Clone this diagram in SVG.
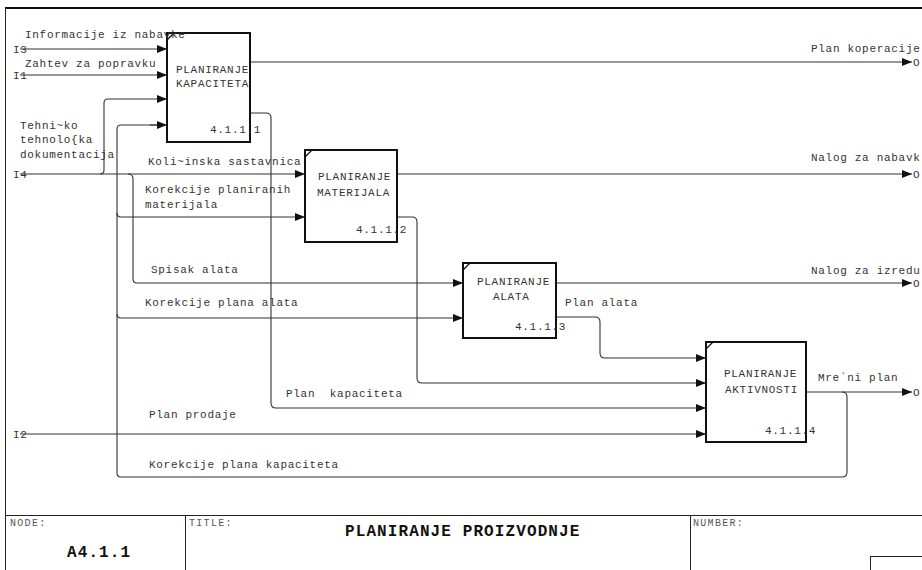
<svg xmlns="http://www.w3.org/2000/svg" width="922" height="570" viewBox="0 0 922 570">
  <style>
    text { font-family: "Liberation Mono", "Courier New", monospace; font-size: 11px; letter-spacing: 0.7px; fill: #333; white-space: pre; }
    .bold { font-weight: bold; font-size: 16px; letter-spacing: 1.1px; fill: #111; }
    .small { font-size: 10px; letter-spacing: 1.3px; fill: #555; }
    .box { fill: #fff; stroke: #111; stroke-width: 2; }
    .tick { stroke: #111; stroke-width: 1.2; }
    .frame { fill: none; stroke: #222; stroke-width: 1; }
    #connectors path { fill: none; stroke: #333; stroke-width: 1.1; }
    #connectors path.arr { marker-end: url(#ah); }
  </style>
  <defs>
    <marker id="ah" markerUnits="userSpaceOnUse" markerWidth="11" markerHeight="9" refX="10" refY="4" orient="auto">
      <path d="M0,0 L10,4 L0,8 z" fill="#111"/>
    </marker>
  </defs>
  <rect width="922" height="570" fill="#fff"/>

  <!-- sheet frame -->
  <g id="frame">
    <line x1="5" y1="8" x2="922" y2="8" stroke="#111" stroke-width="2"/>
    <line x1="5.5" y1="8" x2="5.5" y2="570" class="frame"/>
    <line x1="5" y1="515.5" x2="922" y2="515.5" class="frame"/>
    <line x1="185.5" y1="515" x2="185.5" y2="570" class="frame"/>
    <line x1="690.5" y1="515" x2="690.5" y2="570" class="frame"/>
    <rect x="870.5" y="556.5" width="60" height="20" class="frame"/>
  </g>

  <!-- connectors -->
  <g id="connectors">
    <!-- inputs from the left border -->
    <path class="arr" d="M20,49 H167"/>
    <path class="arr" d="M20,75 H167"/>
    <path class="arr" d="M20,174 H305"/>
    <path class="arr" d="M100,174 Q104,174 104,170 V103 Q104,99 108,99 H167"/>
    <path class="arr" d="M128,174 Q133,174 133,179 V279 Q133,283 137,283 H463"/>
    <path class="arr" d="M20,434 H706"/>
    <!-- feedback: Korekcije plana kapaciteta -->
    <path d="M842,392 Q847,392 847,397 V472 Q847,477 842,477 H121 Q117,477 117,473 V129 Q117,125 121,125 H157"/>
    <path class="arr" d="M150,125 H167"/>
    <path class="arr" d="M117,213 Q117,217 121,217 H305"/>
    <path class="arr" d="M117,314 Q117,318 121,318 H463"/>
    <!-- outputs to the right border -->
    <path class="arr" d="M250,62 H912"/>
    <path class="arr" d="M397,174 H912"/>
    <path class="arr" d="M556,283 H912"/>
    <path class="arr" d="M806,392 H912"/>
    <!-- internal flows into PLANIRANJE AKTIVNOSTI -->
    <path class="arr" d="M250,113 H266 Q271,113 271,118 V403 Q271,408 276,408 H706"/>
    <path class="arr" d="M397,217 H412 Q417,217 417,222 V378 Q417,383 422,383 H706"/>
    <path class="arr" d="M556,317 H595 Q600,317 600,322 V353 Q600,358 605,358 H706"/>
  </g>

  <!-- activity boxes -->
  <g id="node-4111">
    <rect class="box" x="167" y="33" width="83" height="109"/>
    <line class="tick" x1="167" y1="40" x2="174" y2="33"/>
    <text x="176" y="73">PLANIRANJE</text>
    <text x="176" y="87">KAPACITETA</text>
    <text x="210" y="133">4.1.1.1</text>
  </g>
  <g id="node-4112">
    <rect class="box" x="305" y="150" width="92" height="92"/>
    <line class="tick" x1="305" y1="157" x2="312" y2="150"/>
    <text x="318" y="180">PLANIRANJE</text>
    <text x="317" y="196">MATERIJALA</text>
    <text x="356" y="233">4.1.1.2</text>
  </g>
  <g id="node-4113">
    <rect class="box" x="463" y="263" width="93" height="75"/>
    <line class="tick" x1="463" y1="270" x2="470" y2="263"/>
    <text x="477" y="285">PLANIRANJE</text>
    <text x="493" y="300">ALATA</text>
    <text x="515" y="330">4.1.1.3</text>
  </g>
  <g id="node-4114">
    <rect class="box" x="706" y="342" width="100" height="100"/>
    <line class="tick" x1="706" y1="349" x2="713" y2="342"/>
    <text x="724" y="377">PLANIRANJE</text>
    <text x="725" y="393">AKTIVNOSTI</text>
    <text x="765" y="434">4.1.1.4</text>
  </g>

  <!-- arrow labels -->
  <g id="labels">
    <text x="25" y="38">Informacije iz nabavke</text>
    <text x="25" y="67">Zahtev za popravku</text>
    <text x="13" y="53">I3</text>
    <text x="13" y="79">I1</text>
    <text x="13" y="178">I4</text>
    <text x="13" y="438">I2</text>
    <text x="20" y="129">Tehni~ko</text>
    <text x="20" y="143">tehnolo{ka</text>
    <text x="20" y="158">dokumentacija</text>
    <text x="148" y="165">Koli~inska sastavnica</text>
    <text x="145" y="193">Korekcije planiranih</text>
    <text x="145" y="208">materijala</text>
    <text x="151" y="273">Spisak alata</text>
    <text x="145" y="306">Korekcije plana alata</text>
    <text x="565" y="306">Plan alata</text>
    <text x="286" y="397">Plan  kapaciteta</text>
    <text x="149" y="418">Plan prodaje</text>
    <text x="149" y="468">Korekcije plana kapaciteta</text>
    <text x="811" y="52">Plan koperacije</text>
    <text x="811" y="161">Nalog za nabavk</text>
    <text x="811" y="274">Nalog za izredu</text>
    <text x="818" y="381">Mre`ni plan</text>
    <text x="913" y="66">O</text>
    <text x="913" y="178">O</text>
    <text x="913" y="287">O</text>
    <text x="913" y="396">O</text>
  </g>

  <!-- title block -->
  <g id="title-block">
    <text class="small" x="10" y="526">NODE:</text>
    <text class="small" x="189" y="526">TITLE:</text>
    <text class="small" x="693" y="526">NUMBER:</text>
    <text class="bold" x="345" y="536">PLANIRANJE PROIZVODNJE</text>
    <text class="bold" x="67" y="557">A4.1.1</text>
  </g>
</svg>
